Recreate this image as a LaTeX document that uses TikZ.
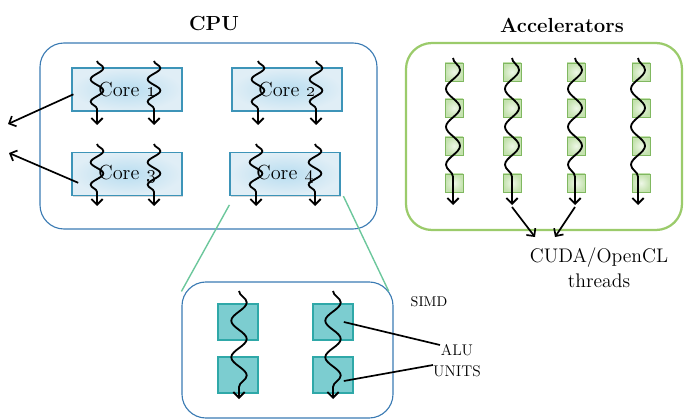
\documentclass[tikz,border=0pt]{standalone}
\usepackage{tikz}
\usetikzlibrary{arrows.meta,decorations.pathmorphing,shadows}

\definecolor{cpublue}{RGB}{59,123,179}
\definecolor{coreedge}{RGB}{61,148,184}
\definecolor{corein}{RGB}{184,221,240}
\definecolor{coreout}{RGB}{224,238,246}
\definecolor{accgreen}{RGB}{155,203,107}
\definecolor{sqedge}{RGB}{128,184,96}
\definecolor{sqin}{RGB}{238,247,231}
\definecolor{sqout}{RGB}{196,226,174}
\definecolor{alufill}{RGB}{124,205,208}
\definecolor{aluedge}{RGB}{47,168,168}
\definecolor{zoomgreen}{RGB}{108,199,156}

\tikzset{
  title/.style={font=\fontsize{14.5}{16}\selectfont\bfseries},
  corebox/.style={draw=coreedge, line width=0.8pt, minimum width=2.75cm, minimum height=1.075cm,
    inner color=corein, outer color=coreout,
    drop shadow={shadow xshift=0.6pt, shadow yshift=-0.8pt, opacity=0.3},
    font=\fontsize{14.5}{16}\selectfont},
  gpusq/.style={draw=sqedge, line width=0.6pt, minimum size=0.45cm, inner sep=0pt,
    inner color=sqin, outer color=sqout,
    drop shadow={shadow xshift=0.5pt, shadow yshift=-0.6pt, opacity=0.25}},
  alusq/.style={draw=aluedge, fill=alufill, line width=1.2pt, minimum width=1cm,
    minimum height=0.9cm, inner sep=0pt},
  thread/.style 2 args={decorate, decoration={snake, amplitude=#1, segment length=#2,
    post length=3mm}, line width=1.3pt, -{Straight Barb[length=4pt,width=8pt]}},
  pointer/.style={line width=1.2pt, -{Straight Barb[length=4pt,width=8pt]}},
  zoomline/.style={zoomgreen, line width=1pt},
}

\begin{document}
\begin{tikzpicture}[x=0.025cm, y=-0.025cm]
\useasboundingbox (0,0) rectangle (685,420);

% titles
\node[title] (cputitle) at (214,24) {CPU};
\node[title] (acctitle) at (562,25) {Accelerators};

% CPU with four cores
\draw[cpublue, line width=0.8pt, rounded corners=0.6cm] (40,43) rectangle (377,229);
\node[corebox] (c1) at (127,89.5) {Core \oldstylenums{1}};
\node[corebox] (c2) at (287,89.5) {Core \oldstylenums{2}};
\node[corebox] (c3) at (127,174) {Core \oldstylenums{3}};
\node[corebox] (c4) at (285,174) {Core \oldstylenums{4}};

\foreach \x in {97,154,258,316}
    \draw[thread={4.5pt}{16pt}] (\x,61) -- (\x,125);
\foreach \x in {97,154,256,315}
    \draw[thread={4.5pt}{16pt}] (\x,144) -- (\x,206);

\coordinate (out1) at (8,124);
\coordinate (out3) at (9,153);
\draw[pointer] ([xshift=0.05cm,yshift=-0.12cm]c1.west) -- (out1);
\draw[pointer] ([xshift=0.17cm,yshift=-0.22cm]c3.west) -- (out3);

% accelerators
\draw[accgreen, line width=1.6pt, rounded corners=0.65cm] (406,43) rectangle (682,230);
\foreach \x [count=\i] in {454,512,576,641} {
    \foreach \y [count=\j] in {72,108,146,183}
        \node[gpusq] (g\i\j) at (\x,\y) {};
}
\foreach \x [count=\i] in {453,512,575,638} {
    \draw[thread={5pt}{27pt}] (\x,58) -- (\x,205);
    \coordinate (t\i) at (\x,207);
}

\coordinate (cuda1) at (535,237);
\coordinate (cuda2) at (555,237);
\draw[pointer] (t2) -- (cuda1);
\draw[pointer] (t3) -- (cuda2);
\node[font=\fontsize{14}{17.5}\selectfont, align=center] (cuda) at (599,268) {CUDA/OpenCL\\threads};

% SIMD close-up of core 4
\node[draw=cpublue, line width=0.8pt, rounded corners=0.6cm, minimum width=5.275cm,
    minimum height=3.4cm] (simd) at (287.5,350) {};
\draw[zoomline] ([yshift=-0.22cm]c4.south west) -- ([yshift=-0.25cm]simd.north west);
\draw[zoomline] ([xshift=0.07cm]c4.south east) -- ([xshift=-0.12cm,yshift=-0.25cm]simd.north east);

\node[alusq] (a11) at (238,322) {};
\node[alusq] (a12) at (238,375) {};
\node[alusq] (a21) at (333,322) {};
\node[alusq] (a22) at (333,375) {};

\foreach \x in {239,333}
    \draw[thread={5.5pt}{26pt}] (\x,291) -- (\x,399);

\node[font=\fontsize{10}{12}\selectfont] (simdlabel) at (429,302) {SIMD};
\node[font=\fontsize{11}{15}\selectfont, align=center] (alulabel) at (457,361) {ALU\\UNITS};

\coordinate (alu1) at (440,345);
\coordinate (alu2) at (433,365);
\draw[line width=1.2pt] ([xshift=-0.25cm]a21.east) -- (alu1);
\draw[line width=1.2pt] ([xshift=-0.25cm,yshift=-0.15cm]a22.east) -- (alu2);

\end{tikzpicture}
\end{document}
